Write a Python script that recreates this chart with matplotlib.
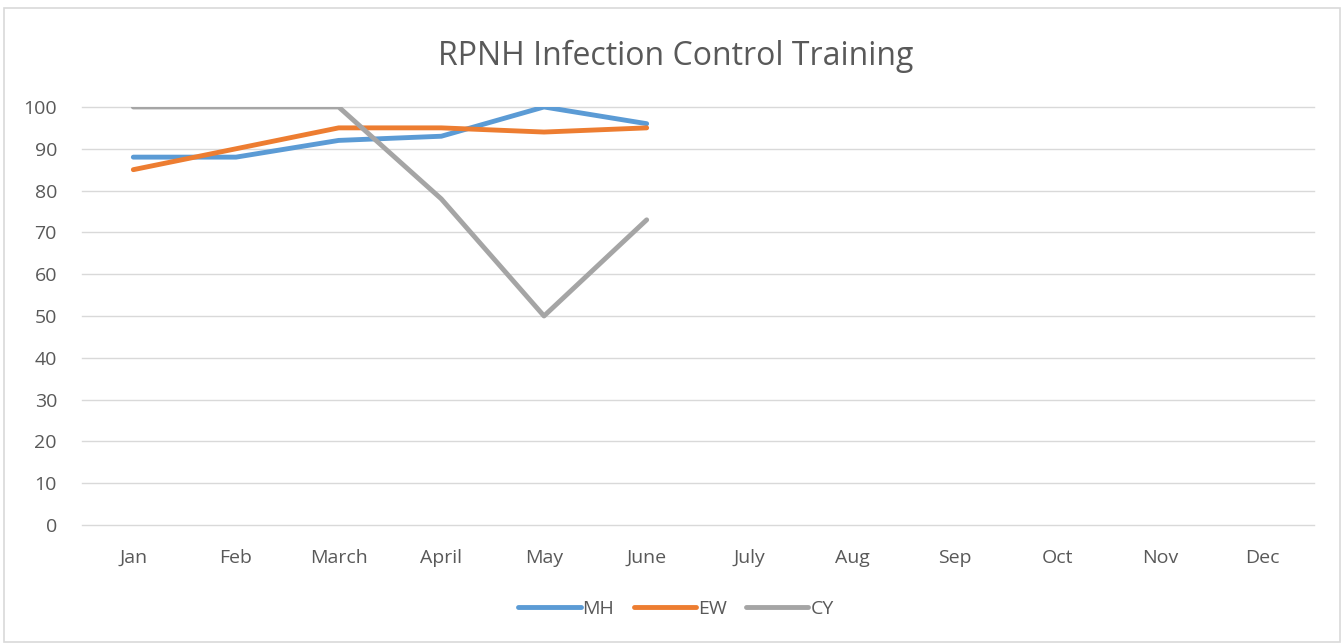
import matplotlib
matplotlib.use("Agg")
import matplotlib.pyplot as plt
import numpy as np

months = ["Jan", "Feb", "March", "April", "May", "June", "July", "Aug", "Sep", "Oct", "Nov", "Dec"]
mh = [88, 88, 92, 93, 100, 96]
ew = [85, 90, 95, 95, 94, 95]
cy = [100, 100, 100, 78, 50, 73]
yticks = list(range(0, 101, 10))

plt.rcParams['font.family'] = ['Open Sans', 'DejaVu Sans']
txt = '#595959'

fig = plt.figure(figsize=(13.44, 6.44), dpi=100)
fig.patches.append(plt.Rectangle((0.003, 0.003), 0.994, 0.985, transform=fig.transFigure,
                                 fill=False, edgecolor='#D9D9D9', linewidth=1.2))
ax = fig.add_axes([0.061, 0.1848, 0.9167, 0.6491])

x = np.arange(len(months))
ax.plot(x[:len(mh)], mh, color='#5B9BD5', lw=3.5, solid_capstyle='round', solid_joinstyle='round', label='MH', zorder=3)
ax.plot(x[:len(ew)], ew, color='#ED7D31', lw=3.5, solid_capstyle='round', solid_joinstyle='round', label='EW', zorder=4)
ax.plot(x[:len(cy)], cy, color='#A5A5A5', lw=3.5, solid_capstyle='round', solid_joinstyle='round', label='CY', zorder=5)

ax.set_xlim(-0.5, 11.5)
ax.set_ylim(0, 100)
ax.set_yticks(yticks)
ax.set_xticks(x)
ax.set_xticklabels(months)
ax.tick_params(axis='both', length=0, labelsize=14, labelcolor=txt)
ax.tick_params(axis='x', pad=17)
ax.tick_params(axis='y', pad=18)
ax.grid(axis='y', color='#D9D9D9', lw=1)
for gl in ax.get_ygridlines():
    gl.set_clip_on(False)
ax.set_axisbelow(True)
for s in ax.spines.values():
    s.set_visible(False)

fig.text(0.503, 0.913, "RPNH Infection Control Training", ha='center', va='center', fontsize=23, color=txt)

leg = fig.legend(loc='center', bbox_to_anchor=(0.503, 0.054), ncol=3, frameon=False,
                 fontsize=14, handlelength=3.2, handletextpad=0.1, columnspacing=1.0)
for t in leg.get_texts():
    t.set_color(txt)

fig.savefig("out.png", dpi=100)
